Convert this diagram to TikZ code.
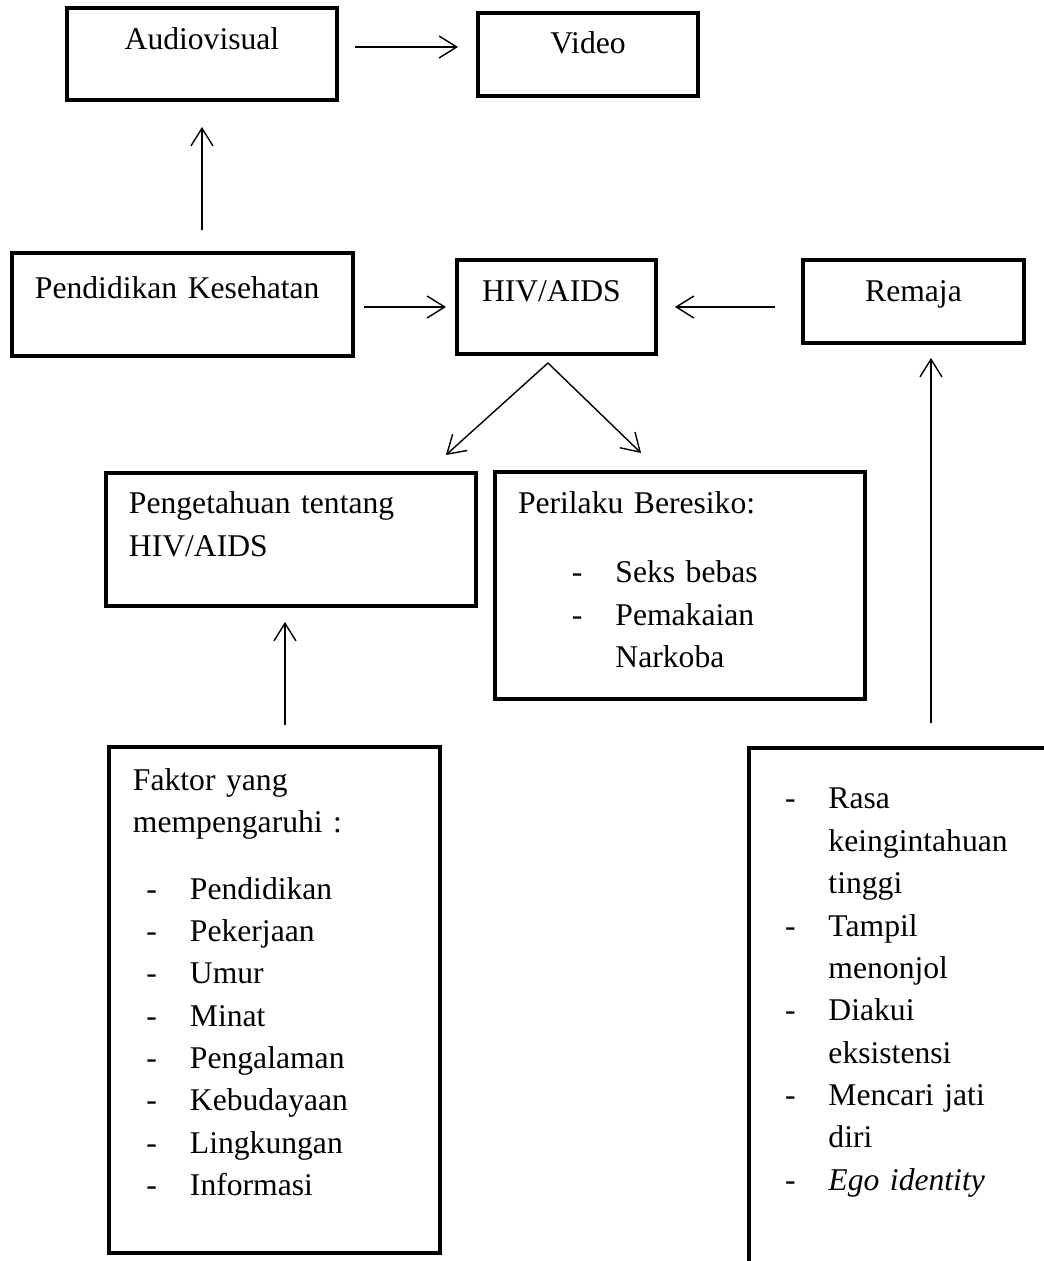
\documentclass[tikz,border=0pt]{standalone}
\usepackage{fontspec}
\setmainfont{Liberation Serif}
\usepackage{tikz}
\usetikzlibrary{arrows.meta,positioning}

\newcommand{\itemdash}{\makebox[0.87cm][l]{-}}

\begin{document}
\begin{tikzpicture}[
  x=0.02cm, y=-0.02cm,
  font=\fontsize{18}{24.1}\selectfont,
  box/.style={
    draw=black, line width=2.3pt, inner ysep=0pt, outer sep=0pt,
    anchor=north west, align=left, inner xsep=#1
  },
  box/.default=0pt,
  arr/.style={-{Straight Barb[length=10pt,width=12.5pt]}, line width=0.8pt}
]

\clip (0,0) rectangle (1044,1261);

% ── Row 0: media ───────────────────────────────────────────────────────────
\node[box, align=center, text width=5.4cm, text height=0.84cm, text depth=1.0cm]
  (audio) at (67,8) {Audiovisual};
\node[box, align=center, text width=4.4cm, text height=0.82cm, text depth=0.84cm]
  (video) at (478,13) {Video};

% ── Row 1: education, topic, target group ──────────────────────────────────
\node[box=0.46cm, text width=5.9cm, text height=0.92cm, text depth=1.14cm]
  (pendkes) at (12,253) {Pendidikan Kesehatan};
\node[box=0.5cm, text width=2.98cm, text height=0.84cm, text depth=1.04cm]
  (hiv) at (457,260) {HIV/AIDS};
\node[box, align=center, text width=4.42cm, text height=0.84cm, text depth=0.82cm]
  (remaja) at (803,260) {Remaja};

% ── Row 2: knowledge and risk behaviour ────────────────────────────────────
\node[box=0.46cm, text width=6.48cm, text height=0.82cm, text depth=1.84cm]
  (penget) at (106,473) {Pengetahuan tentang\\HIV/AIDS};
\node[box=0.46cm, text width=6.48cm, text height=0.84cm, text depth=3.7cm]
  (perilaku) at (495,472)
  {Perilaku Beresiko:\\[0.53cm]
   \hspace*{1.08cm}\itemdash Seks bebas\\
   \hspace*{1.08cm}\itemdash Pemakaian\\
   \hspace*{1.95cm}Narkoba};

% ── Row 3: factors and characteristics ─────────────────────────────────────
\node[box=0.48cm, text width=5.66cm, text height=0.86cm, text depth=9.26cm]
  (faktor) at (109,747)
  {Faktor yang\\mempengaruhi :\\[0.49cm]
   \hspace*{0.27cm}\itemdash Pendidikan\\
   \hspace*{0.27cm}\itemdash Pekerjaan\\
   \hspace*{0.27cm}\itemdash Umur\\
   \hspace*{0.27cm}\itemdash Minat\\
   \hspace*{0.27cm}\itemdash Pengalaman\\
   \hspace*{0.27cm}\itemdash Kebudayaan\\
   \hspace*{0.27cm}\itemdash Lingkungan\\
   \hspace*{0.27cm}\itemdash Informasi};
\node[box=0.72cm, text width=6.56cm, text height=1.22cm, text depth=12cm]
  (ciri) at (749,748)
  {\itemdash Rasa\\
   \hspace*{0.87cm}keingintahuan\\
   \hspace*{0.87cm}tinggi\\
   \itemdash Tampil\\
   \hspace*{0.87cm}menonjol\\
   \itemdash Diakui\\
   \hspace*{0.87cm}eksistensi\\
   \itemdash Mencari jati\\
   \hspace*{0.87cm}diri\\
   \itemdash \textit{Ego identity}};

% ── Arrows ─────────────────────────────────────────────────────────────────
\draw[arr, shorten <=0.36cm, shorten >=0.4cm]
  ([yshift=0.14cm]audio.east) -- ([yshift=0.14cm]audio.east -| video.west);
\draw[arr, shorten <=0.46cm, shorten >=0.54cm] (audio.south |- pendkes.north) -- (audio.south);
\draw[arr, shorten <=0.22cm, shorten >=0.22cm] (pendkes.east |- hiv.west) -- (hiv.west);
\draw[arr, shorten <=0.56cm, shorten >=0.38cm] (remaja.west |- hiv.east) -- (hiv.east);

\coordinate (split) at ([xshift=-0.17cm,yshift=-0.18cm]hiv.south);
\draw[arr] (split) -- ([shift={(-30,-18)}]penget.north east);
\draw[arr] (split) -- ([shift={(146,-19)}]perilaku.north west);

\draw[arr, shorten <=0.44cm, shorten >=0.32cm]
  ([xshift=-0.12cm]faktor.north -| penget.south) -- ([xshift=-0.12cm]penget.south);
\draw[arr, shorten <=0.5cm, shorten >=0.3cm]
  ([xshift=0.35cm]ciri.north -| remaja.south) -- ([xshift=0.35cm]remaja.south);

\end{tikzpicture}
\end{document}
